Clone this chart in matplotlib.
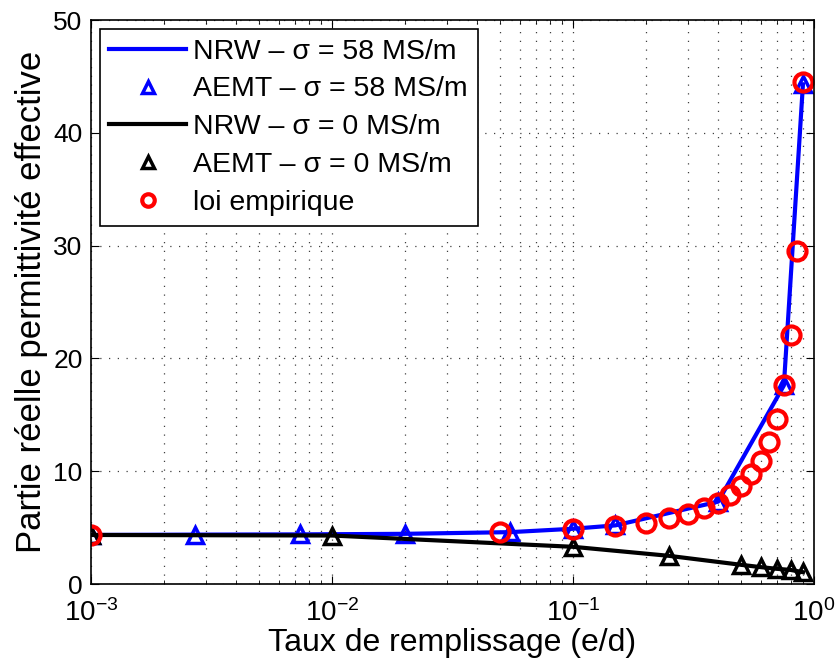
import numpy as np
import matplotlib
matplotlib.use("Agg")
import matplotlib.pyplot as plt
from matplotlib.ticker import LogLocator, NullFormatter

plt.rcParams['font.family'] = ['Liberation Sans', 'DejaVu Sans']
plt.rcParams['mathtext.fontset'] = 'custom'
plt.rcParams['mathtext.rm'] = 'Liberation Sans'
plt.rcParams['mathtext.it'] = 'Liberation Sans:italic'

# NRW / AEMT, sigma = 58 MS/m
x_58 = [0.001, 0.0027, 0.0074, 0.02, 0.055, 0.1, 0.15, 0.4, 0.75, 0.9]
y_58 = [4.35, 4.38, 4.4, 4.45, 4.6, 4.9, 5.2, 7.3, 17.6, 44.3]

# NRW / AEMT, sigma = 0 MS/m
x_0 = [0.001, 0.01, 0.1, 0.25, 0.5, 0.6, 0.7, 0.8, 0.9]
y_0 = [4.35, 4.3, 3.3, 2.5, 1.7, 1.5, 1.35, 1.25, 1.05]

# loi empirique
x_emp = [0.001, 0.05, 0.1, 0.15, 0.2, 0.25, 0.3, 0.35, 0.4, 0.45, 0.5,
         0.55, 0.6, 0.65, 0.7, 0.75, 0.8, 0.85, 0.9]
y_emp = [4.35, 4.6, 4.9, 5.15, 5.45, 5.85, 6.2, 6.7, 7.2, 7.9, 8.7,
         9.75, 10.9, 12.6, 14.6, 17.6, 22.1, 29.5, 44.5]

fig = plt.figure(figsize=(8.37, 6.67), dpi=100)
ax = fig.add_axes([0.1087, 0.1244, 0.8638, 0.8456])

ax.plot(x_58, y_58, '-', color='#0000ff', lw=3, label='NRW \u2013 \u03c3 = 58 MS/m')
ax.plot(x_58, y_58, '^', color='#0000ff', ms=12, mfc='none', mew=2.5, ls='none',
        label='AEMT \u2013 \u03c3 = 58 MS/m')
ax.plot(x_0, y_0, '-', color='k', lw=3, label='NRW \u2013 \u03c3 = 0 MS/m')
ax.plot(x_0, y_0, '^', color='k', ms=12, mfc='none', mew=2.5, ls='none',
        label='AEMT \u2013 \u03c3 = 0 MS/m')
ax.plot(x_emp, y_emp, 'o', color='#ff0000', ms=13, mfc='none', mew=3, ls='none',
        label='loi empirique')

ax.set_xscale('log')
ax.set_xlim(1e-3, 1)
ax.set_ylim(0, 50)
ax.set_yticks([0, 10, 20, 30, 40, 50])
ax.xaxis.set_major_locator(LogLocator(base=10))
ax.xaxis.set_minor_locator(LogLocator(base=10, subs=np.arange(2, 10)))
ax.xaxis.set_minor_formatter(NullFormatter())

grid_style = dict(ls=(0, (1, 6)), color='0.25', lw=0.9)
ax.grid(True, which='major', **grid_style)
ax.grid(True, which='minor', axis='x', **grid_style)
ax.tick_params(which='both', direction='in', top=True, right=True, labelsize=19)
ax.tick_params(which='major', length=6, pad=6)
ax.tick_params(which='minor', length=3)
ax.tick_params(axis='x', which='major', pad=11, labelsize=20)
for s in ax.spines.values():
    s.set_linewidth(1.2)

ax.set_xlabel('Taux de remplissage (e/d)', fontsize=23, labelpad=1)
ax.set_ylabel('Partie réelle permittivité effective', fontsize=25, labelpad=4)

leg = ax.legend(loc='upper left', fontsize=20.5, frameon=True, fancybox=False,
                edgecolor='k', framealpha=1, handlelength=2.7, borderaxespad=0.3,
                labelspacing=0.42, handletextpad=0.25, borderpad=0.35)
leg.get_frame().set_linewidth(1.2)
for h in leg.legend_handles:
    if hasattr(h, 'set_markersize'):
        h.set_markersize(9)

fig.savefig('out.png', dpi=100)
